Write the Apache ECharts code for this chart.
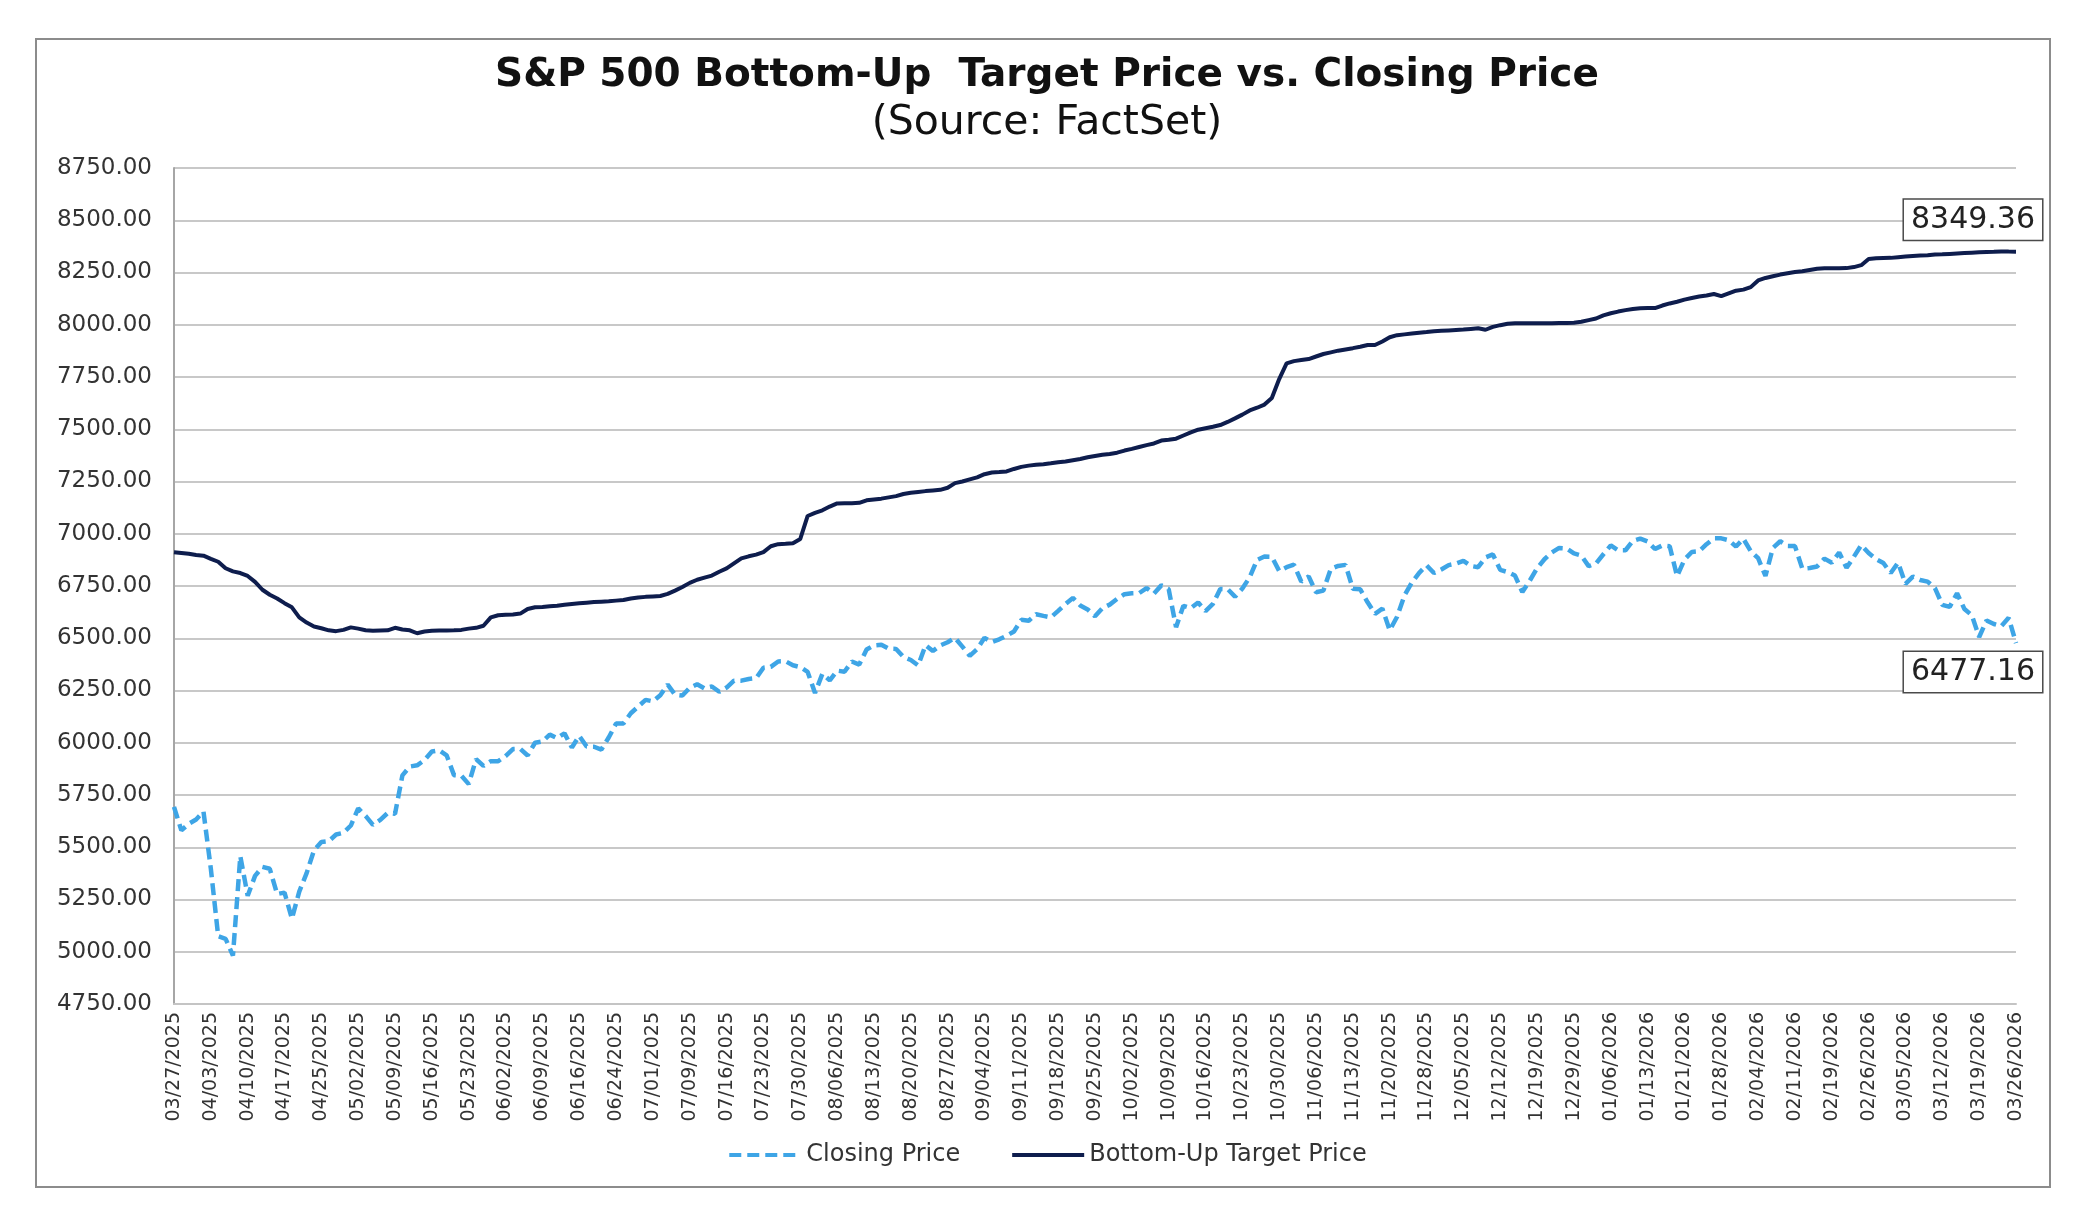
<!DOCTYPE html>
<html>
<head>
<meta charset="utf-8">
<style>
  html, body { margin: 0; padding: 0; background: #ffffff; }
  #chart { width: 2094px; height: 1226px; }
</style>
<script src="https://cdn.jsdelivr.net/npm/echarts@6/dist/echarts.min.js"></script>
</head>
<body>
<div id="chart"></div>
<script>
// ---- Categories: trading days (labelled every 5th session) ----
const firstDay = '2025-03-27';
const lastDay = '2026-03-26';
const marketHolidays = ['2025-04-18','2025-05-26','2025-06-19','2025-07-04','2025-09-01',
  '2025-11-27','2025-12-25','2026-01-01','2026-01-19','2026-02-16'];

// ---- Series values ----
const closingPrice2025H1 = [
  5693,5581,5612,5633,5671,5397,5074,5062,4982,5457,
  5268,5363,5406,5397,5276,5283,5158,5288,5376,5485,
  5525,5529,5561,5569,5604,5686,5650,5607,5631,5664,
  5660,5844,5886,5892,5917,5958,5964,5940,5845,5842,
  5802,5922,5889,5912,5912,5936,5970,5971,5939,6000,
  6006,6039,6022,6045,5977,6033,5982,5981,5967,6025,
  6092,6092,6141,6173,6205
];
const closingPrice2025H2 = [
  6198,6227,6279,6230,6226,6263,6280,6260,6269,6244,
  6264,6297,6297,6305,6309,6359,6363,6389,6390,6371,
  6362,6339,6238,6330,6299,6345,6340,6389,6374,6446,
  6466,6469,6450,6449,6411,6396,6370,6467,6439,6466,
  6481,6502,6460,6416,6448,6502,6482,6495,6512,6532,
  6588,6584,6615,6607,6600,6631,6664,6693,6657,6638,
  6605,6644,6661,6688,6711,6715,6716,6740,6714,6753,
  6735,6553,6655,6644,6671,6630,6664,6736,6735,6699,
  6738,6792,6875,6891,6890,6822,6840,6852,6771,6796,
  6720,6728,6832,6846,6851,6737,6734,6672,6617,6642,
  6538,6603,6705,6766,6813,6849,6812,6829,6850,6857,
  6870,6846,6840,6887,6901,6827,6817,6800,6721,6775,
  6835,6878,6910,6932,6930,6906,6896,6845
];
const closingPrice2026 = [
  6858,6902,6944,6921,6921,6966,6977,6963,6927,6944,
  6940,6797,6876,6913,6916,6950,6978,6978,6969,6939,
  6976,6917,6883,6798,6932,6964,6942,6941,6833,6836,
  6843,6881,6861,6910,6837,6890,6946,6908,6879,6860,
  6812,6862,6760,6795,6779,6771,6740,6660,6650,6715,
  6640,6610,6506,6585,6568,6558,6598,6477.16
];
const targetPrice2025H1 = [
  6912,6908,6904,6898,6895,6880,6866,6835,6820,6812,
  6798,6770,6732,6708,6690,6668,6648,6600,6575,6556,
  6548,6538,6534,6540,6552,6546,6538,6536,6537,6538,
  6550,6542,6538,6524,6532,6536,6537,6537,6538,6540,
  6546,6550,6560,6600,6610,6612,6614,6618,6640,6648,
  6650,6653,6655,6660,6664,6667,6670,6673,6675,6677,
  6680,6683,6690,6695,6698
];
const targetPrice2025H2 = [
  6700,6702,6712,6728,6745,6765,6780,6790,6800,6818,
  6834,6858,6882,6892,6900,6912,6940,6950,6952,6955,
  6975,7085,7100,7112,7130,7145,7146,7146,7148,7160,
  7164,7168,7174,7180,7190,7196,7200,7204,7207,7210,
  7220,7242,7250,7260,7270,7285,7293,7295,7298,7310,
  7320,7326,7330,7333,7337,7342,7346,7352,7358,7366,
  7372,7378,7382,7388,7398,7406,7415,7424,7432,7446,
  7450,7455,7470,7485,7498,7505,7512,7520,7535,7552,
  7570,7590,7603,7618,7650,7740,7815,7826,7831,7836,
  7848,7860,7868,7876,7882,7888,7895,7903,7903,7920,
  7940,7950,7954,7958,7962,7965,7969,7971,7973,7975,
  7977,7980,7983,7976,7990,7998,8005,8007,8007,8007,
  8007,8007,8007,8008,8008,8010,8014,8022
];
const targetPrice2026 = [
  8030,8045,8055,8063,8070,8075,8079,8080,8080,8092,
  8102,8110,8120,8128,8135,8140,8147,8137,8150,8163,
  8168,8180,8212,8224,8232,8240,8246,8252,8256,8262,
  8268,8270,8270,8270,8271,8276,8285,8315,8318,8319,
  8320,8323,8326,8329,8331,8333,8336,8337,8339,8341,
  8343,8345,8347,8348,8349,8351,8350,8349.36
];

// ---- Axis ticks ----
const yMin = 4750, yMax = 8750, yStep = 250;

// ---- Build categories ----
function pad(n) { return (n < 10 ? '0' : '') + n; }
const tradingDays = [];
(function () {
  const d = new Date(firstDay + 'T00:00:00Z');
  const end = new Date(lastDay + 'T00:00:00Z');
  while (d <= end) {
    const dow = d.getUTCDay();
    const iso = d.getUTCFullYear() + '-' + pad(d.getUTCMonth() + 1) + '-' + pad(d.getUTCDate());
    if (dow !== 0 && dow !== 6 && marketHolidays.indexOf(iso) < 0) {
      tradingDays.push(pad(d.getUTCMonth() + 1) + '/' + pad(d.getUTCDate()) + '/' + d.getUTCFullYear());
    }
    d.setUTCDate(d.getUTCDate() + 1);
  }
})();

const closingPrice = closingPrice2025H1.concat(closingPrice2025H2, closingPrice2026);
const targetPrice = targetPrice2025H1.concat(targetPrice2025H2, targetPrice2026);

function boxLabel(arr, dy) {
  return {
    show: true,
    formatter: function () { return arr[arr.length - 1].toFixed(2); },
    distance: 0,
    offset: [-43, dy],
    align: 'center',
    verticalAlign: 'middle',
    fontFamily: 'DejaVu Sans', fontSize: 30, color: '#222',
    backgroundColor: '#ffffff', borderColor: '#4a4a4a', borderWidth: 1.5,
    padding: [3, 7, 3, 7], lineHeight: 34
  };
}

const chart = echarts.init(document.getElementById('chart'), null, { renderer: 'canvas' });
chart.setOption({
  backgroundColor: '#ffffff',
  animation: false,
  title: [
    {
      text: 'S&P 500 Bottom-Up  Target Price vs. Closing Price',
      left: 'center', top: 53, padding: 0,
      textStyle: { fontFamily: 'DejaVu Sans', fontWeight: 'bold', fontSize: 39, lineHeight: 46, color: '#111' }
    },
    {
      text: '(Source: FactSet)',
      left: 'center', top: 100, padding: 0,
      textStyle: { fontFamily: 'DejaVu Sans', fontWeight: 'normal', fontSize: 41, lineHeight: 46, color: '#111' }
    }
  ],
  graphic: [{
    type: 'rect', silent: true, z: -1,
    shape: { x: 36, y: 39, width: 2014, height: 1148 },
    style: { fill: 'none', stroke: '#8c8c8c', lineWidth: 2 }
  }],
  legend: {
    bottom: 1226 - 1172, left: 'center',
    itemWidth: 72, itemHeight: 12, itemGap: 50,
    itemStyle: { opacity: 0 },
    lineStyle: { width: 4 },
    textStyle: { fontFamily: 'DejaVu Sans', fontSize: 24, color: '#333' },
    data: ['Closing Price', 'Bottom-Up Target Price']
  },
  grid: { left: 174, right: 78, top: 168, bottom: 222, containLabel: false },
  xAxis: {
    type: 'category',
    data: tradingDays,
    boundaryGap: false,
    axisLine: { show: true, lineStyle: { color: '#c4c4c4', width: 2 } },
    axisTick: { show: false },
    axisLabel: {
      interval: 4, rotate: 90, margin: 8,
      fontFamily: 'DejaVu Sans', fontSize: 19, color: '#333'
    },
    splitLine: { show: false }
  },
  yAxis: {
    type: 'value',
    min: yMin, max: yMax, interval: yStep,
    axisLine: { show: true, lineStyle: { color: '#a6a6a6', width: 2 } },
    axisTick: { show: false },
    axisLabel: {
      margin: 22, fontFamily: 'DejaVu Sans', fontSize: 23, color: '#333',
      formatter: function (v) { return v.toFixed(2); }
    },
    splitLine: { show: true, lineStyle: { color: '#c8c8c8', width: 2 } }
  },
  series: [
    {
      name: 'Closing Price',
      type: 'line',
      data: closingPrice,
      symbol: 'none', showSymbol: false,
      lineStyle: { color: '#3ea5e6', width: 4.5, type: [12, 6] },
      itemStyle: { color: '#3ea5e6' },
      endLabel: boxLabel(closingPrice, 29),
      z: 3
    },
    {
      name: 'Bottom-Up Target Price',
      type: 'line',
      data: targetPrice,
      symbol: 'none', showSymbol: false,
      lineStyle: { color: '#0e1d4d', width: 4, type: 'solid' },
      itemStyle: { color: '#0e1d4d' },
      endLabel: boxLabel(targetPrice, -32),
      z: 4
    }
  ]
});
</script>
</body>
</html>
